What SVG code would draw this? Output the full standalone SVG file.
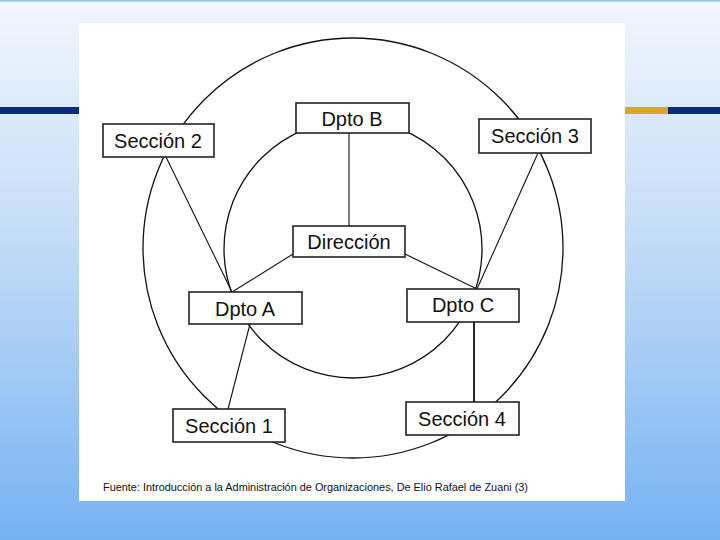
<svg xmlns="http://www.w3.org/2000/svg" width="720" height="540" viewBox="0 0 720 540">
<defs>
<linearGradient id="bg" x1="0" y1="0" x2="0" y2="1">
<stop offset="0" stop-color="#f2f7fd"/>
<stop offset="0.5" stop-color="#bcd8f6"/>
<stop offset="1" stop-color="#76b2f2"/>
</linearGradient>
<style>
.box{fill:#fff;stroke:#222;stroke-width:1.6}
.lbl{font-family:"Liberation Sans",Arial,sans-serif;font-size:20px;fill:#111;text-anchor:middle;dominant-baseline:central}
.ln{stroke:#111;stroke-width:1.1;fill:none}
.circ{stroke:#111;stroke-width:1.3;fill:none}
</style>
</defs>
<rect x="0" y="0" width="720" height="540" fill="url(#bg)"/>
<rect x="0" y="0" width="720" height="1.5" fill="#9cc0e0"/>
<rect x="0" y="107" width="80" height="7" fill="#0b2a82"/>
<rect x="625" y="107" width="43" height="7" fill="#e0a528"/>
<rect x="668" y="107" width="52" height="7" fill="#0b2a82"/>
<rect x="79" y="23" width="546" height="478" fill="#fff"/>
<g id="circles">
<circle class="circ" cx="353" cy="248" r="210"/>
<circle class="circ" cx="353" cy="249" r="129"/>
</g>
<g id="connectors">
<line class="ln" x1="349" y1="133" x2="349" y2="226"/>
<line class="ln" x1="166" y1="157" x2="232" y2="292"/>
<line class="ln" x1="293" y1="254" x2="232" y2="292"/>
<line class="ln" x1="405" y1="254" x2="477" y2="289"/>
<line class="ln" x1="538" y1="153" x2="477" y2="289"/>
<line class="ln" x1="250" y1="324" x2="228" y2="409"/>
<line class="ln" x1="474" y1="322" x2="474" y2="402" style="stroke-width:1.8"/>
</g>
<g id="dpto-b"><rect class="box" x="296" y="103" width="113" height="30"/><text class="lbl" x="352" y="119">Dpto B</text></g>
<g id="seccion-2"><rect class="box" x="103" y="124" width="111" height="33"/><text class="lbl" x="158" y="141">Sección 2</text></g>
<g id="seccion-3"><rect class="box" x="479" y="119" width="112" height="34"/><text class="lbl" x="535" y="136">Sección 3</text></g>
<g id="direccion"><rect class="box" x="293" y="226" width="112" height="31"/><text class="lbl" x="349" y="242">Dirección</text></g>
<g id="dpto-a"><rect class="box" x="189" y="292" width="113" height="32"/><text class="lbl" x="245" y="309">Dpto A</text></g>
<g id="dpto-c"><rect class="box" x="407" y="289" width="112" height="33"/><text class="lbl" x="463" y="305">Dpto C</text></g>
<g id="seccion-1"><rect class="box" x="173" y="409" width="112" height="33"/><text class="lbl" x="229" y="426">Sección 1</text></g>
<g id="seccion-4"><rect class="box" x="406" y="402" width="113" height="33"/><text class="lbl" x="462" y="419">Sección 4</text></g>
<text x="103" y="491" font-family="Liberation Sans,Arial,sans-serif" font-size="11" fill="#111" textLength="425" lengthAdjust="spacingAndGlyphs">Fuente: Introducción a la Administración de Organizaciones, De Elio Rafael de Zuani (3)</text>
</svg>
